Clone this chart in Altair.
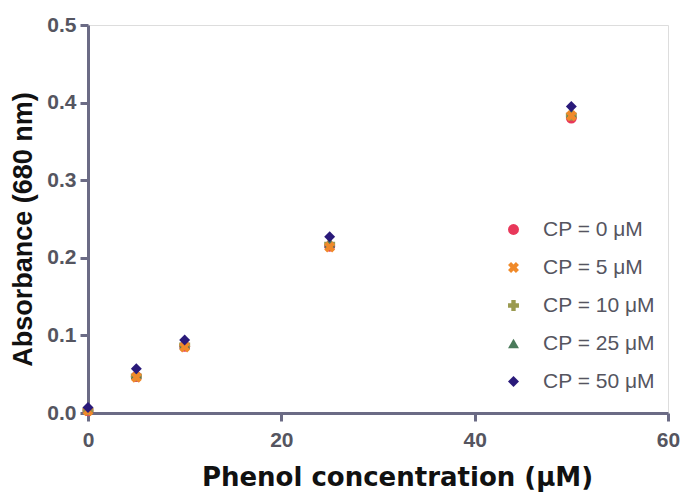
import altair as alt
import pandas as pd

phenol = [0, 5, 10, 25, 50]
series = ["CP = 0 μM", "CP = 5 μM", "CP = 10 μM", "CP = 25 μM", "CP = 50 μM"]
cp0 = [0.003, 0.047, 0.086, 0.215, 0.380]
cp5 = [0.003, 0.046, 0.085, 0.214, 0.383]
cp10 = [0.004, 0.048, 0.088, 0.218, 0.384]
cp25 = [0.005, 0.050, 0.089, 0.219, 0.386]
cp50 = [0.007, 0.057, 0.094, 0.227, 0.395]
colors = ["#e8385a", "#f08a2a", "#9a9a50", "#4a7a5a", "#2a1a7a"]
xpath = "M-0.45,-1L0,-0.55L0.45,-1L1,-0.45L0.55,0L1,0.45L0.45,1L0,0.55L-0.45,1L-1,0.45L-0.55,0L-1,-0.45Z"
shapes = ["circle", xpath, "cross", "triangle-up", "diamond"]

rows = []
for name, vals in zip(series, [cp0, cp5, cp10, cp25, cp50]):
    for x, y in zip(phenol, vals):
        rows.append({"phenol": x, "abs": y, "series": name})
df = pd.DataFrame(rows)

axis_common = dict(
    domainColor="#6b6b85", domainWidth=3, tickColor="#6b6b85", tickWidth=3, tickSize=8,
    labelFont="Liberation Sans", labelFontSize=21, labelFontWeight="bold", labelColor="#555560",
    labelFlush=False,
    titleFontWeight="bold", titleColor="#111111",
    grid=False,
)

chart = alt.Chart(df).mark_point(filled=True, opacity=1, size=120).encode(
    x=alt.X("phenol:Q", title="Phenol concentration (μM)",
            scale=alt.Scale(domain=[0, 60], nice=False, zero=True),
            axis=alt.Axis(values=[0, 20, 40, 60], labelPadding=8,
                          titleFont="DejaVu Sans", titleFontSize=26,
                          titleX=309, titleY=72, titleBaseline="alphabetic", titleAlign="center",
                          **axis_common)),
    y=alt.Y("abs:Q", title="Absorbance (680 nm)",
            scale=alt.Scale(domain=[0, 0.5], nice=False),
            axis=alt.Axis(values=[0, 0.1, 0.2, 0.3, 0.4, 0.5], format=".1f", labelPadding=4,
                          titleFont="Liberation Sans", titleFontSize=27,
                          titleX=-51, titleY=204, titleAlign="center", titleBaseline="bottom",
                          **axis_common)),
    color=alt.Color("series:N", sort=series, scale=alt.Scale(domain=series, range=colors),
                    legend=alt.Legend(title=None, orient="none", legendX=415, legendY=194,
                                      labelFont="Liberation Sans", labelFontSize=21, labelColor="#555560",
                                      symbolSize=120, rowPadding=16, labelOffset=19, symbolStrokeWidth=0)),
    shape=alt.Shape("series:N", sort=series, scale=alt.Scale(domain=series, range=shapes),
                    legend=alt.Legend(title=None, orient="none", legendX=415, legendY=194)),
    order=alt.Order("series:N", sort="ascending"),
).properties(
    width=580, height=388,
    autosize=alt.AutoSizeParams(type="none"),
    padding={"left": 80, "top": 17, "right": 12, "bottom": 79},
).configure_view(stroke=None).configure(background="#ffffff")

chart.save("out.html", embed_options={"renderer": "svg", "actions": False})
